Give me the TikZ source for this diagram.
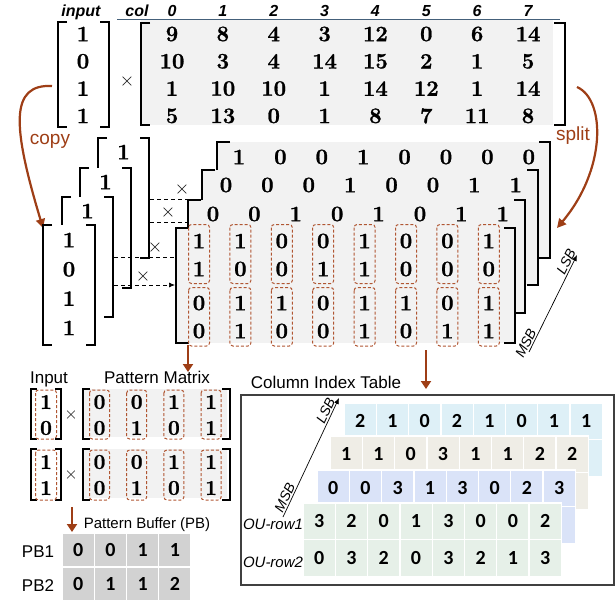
\documentclass[tikz,border=0pt]{standalone}
\usepackage{fontspec}
\setsansfont{Liberation Sans}
\newfontfamily\calfont{Carlito}
\newfontfamily\hvy{Latin Modern Roman}[BoldFeatures={FakeBold=1.2}]
\usetikzlibrary{arrows.meta}
\definecolor{brn}{RGB}{158,62,22}
\definecolor{dbox}{RGB}{176,86,50}
\definecolor{hdr}{RGB}{68,96,122}
\definecolor{lgray}{RGB}{242,242,242}
\definecolor{pbgray}{RGB}{210,210,210}
\definecolor{cblue}{RGB}{222,240,247}
\definecolor{cbeige}{RGB}{239,237,230}
\definecolor{clav}{RGB}{218,227,248}
\definecolor{cgreen}{RGB}{230,240,232}
\newcommand\Lbrk[4]{\draw[brk] (#1+#4,#2) -- (#1,#2) -- (#1,#3) -- (#1+#4,#3);}
\newcommand\Rbrk[4]{\draw[brk] (#1-#4,#2) -- (#1,#2) -- (#1,#3) -- (#1-#4,#3);}
\newcommand\Layer[8]{%
  \fill[lgray] (#1,#3) rectangle (#2,#4);
  \Lbrk{#1}{#3}{#4}{13}
  \Rbrk{#2}{#3}{#4}{11}
  \foreach \v [count=\c] in {#7} \node[bigdig] (#8-\c) at ({#5+41.4*(\c-1)},#6) {\v};
}
\newcommand\CLayer[5]{%
  \foreach \c in {0,...,7} {\foreach \r in {0,1} {\draw[cell, fill=#3] ({#1+32.3*\c},{#2+36.7*\r}) rectangle ++(32.3,36.7);}}
  \foreach \v [count=\c] in {#5} \node[cdig] (#4-\c) at ({#1+32.3*(\c-0.5)},{#2+18.35}) {\v};
}
\begin{document}
\begin{tikzpicture}[x=1pt,y=-1pt,
  brk/.style={line width=1.2pt, line join=miter},
  dig/.style={inner sep=0pt, font=\fontsize{22}{22}\selectfont\hvy\bfseries},
  bigdig/.style={inner sep=0pt, font=\fontsize{22}{22}\selectfont\hvy\bfseries},
  smdig/.style={inner sep=0pt, font=\fontsize{21}{21}\selectfont\hvy\bfseries},
  hd/.style={inner sep=0pt, font=\fontsize{16}{16}\selectfont\sffamily\bfseries\itshape},
  lbl/.style={inner sep=0pt, font=\fontsize{17}{17}\selectfont\sffamily},
  brlbl/.style={inner sep=0pt, text=brn, font=\fontsize{19}{19}\selectfont\sffamily},
  tms/.style={inner sep=0pt, font=\fontsize{20}{20}\selectfont},
  dbx/.style={draw=dbox, line width=1pt, rounded corners=3pt, dash pattern=on 3pt off 2pt},
  darr/.style={line width=0.7pt, dash pattern=on 4pt off 3pt},
  barr/.style={draw=brn, line width=2.6pt, -{Triangle[length=8pt,width=10pt]}},
  carr/.style={draw=brn, line width=2.2pt, -{Triangle[length=9pt,width=9pt]}},
  cell/.style={draw=white, line width=1.3pt},
  cdig/.style={inner sep=0pt, font=\fontsize{20}{20}\selectfont\calfont\bfseries},
  itl/.style={inner sep=0pt, font=\fontsize{15}{15}\selectfont\sffamily\itshape},
  msl/.style={inner sep=1.5pt, font=\fontsize{14}{14}\selectfont\sffamily\itshape, sloped, above},
  sarr/.style={line width=0.7pt, -{Latex[length=6pt,width=5pt]}}]
\useasboundingbox (0,0) rectangle (615,604);

% ---------- header ----------
\node[hd, anchor=base] (hin) at (81,17) {input};
\node[hd, anchor=base] (hcol) at (137,17) {col};
\foreach \v [count=\c] in {0,...,7} \node[hd, anchor=base] (hc\v) at ({172+50.86*(\c-1)},17) {\v};
\draw[hdr, line width=1.8pt] (117,19.5) -- (560,19.5);

% ---------- top matrix ----------
\fill[lgray] (141,20.5) rectangle (553,125);
\Lbrk{141}{23}{125}{9}
\Rbrk{565}{23}{125}{11}
\foreach \row [count=\r] in {{9,8,4,3,12,0,6,14},{10,3,4,14,15,2,1,5},{1,10,10,1,14,12,1,14},{5,13,0,1,8,7,11,8}} {
  \foreach \v [count=\c] in \row {
    \node[dig] (tm-\r-\c) at ({172+50.86*(\c-1)},{34+27.3*(\r-1)}) {\v};
  }
}
% input vector
\Lbrk{58}{22}{127}{9}
\Rbrk{109}{22}{127}{9}
\foreach \v [count=\r] in {1,0,1,1} \node[dig] (in\r) at (83,{34+27.3*(\r-1)}) {\v};
\node[tms] (x0) at (127,82) {×};

% ---------- copy / split ----------
\coordinate (cpS) at (52,86);
\coordinate (cpE) at (43,228);
\draw[carr] (cpS) .. controls (10,84) and (12,125) .. (cpE);
\node[brlbl, anchor=base] (copy) at (50,145) {copy};
\coordinate (spS) at (577,87);
\coordinate (spE) at (557,228);
\draw[carr] (spS) .. controls (606,100) and (606,170) .. (spE);
\node[brlbl, anchor=base] (split) at (573,141) {split};

% ---------- copied vectors ----------
\foreach \lx/\ty/\i in {98/138/1, 80/168/2, 62/197/3} {
  \fill[white] (\lx,\ty) rectangle (\lx+51,\ty+120);
  \Lbrk{\lx}{\ty}{\ty+120}{9}
  \Rbrk{\lx+51}{\ty}{\ty+120}{9}
  \node[bigdig] (bv\i) at (\lx+25.5,\ty+14) {1};
}
\fill[white] (43,225) rectangle (95,345);
\Lbrk{43}{225}{345}{9}
\Rbrk{95}{225}{345}{9}
\foreach \v [count=\r] in {1,0,1,1} \node[bigdig] (fv\r) at (69,{240+29.3*(\r-1)}) {\v};

% ---------- dashed connectors ----------
\coordinate (d1s) at (150,199); \coordinate (d1e) at (201,199);
\coordinate (d2s) at (150,222); \coordinate (d2e) at (188,222);
\coordinate (d3s) at (114,257); \coordinate (d3e) at (176,257);
\coordinate (d4s) at (114,285); \coordinate (d4e) at (175,285);
\draw[darr] (d1s) -- (d1e);
\draw[darr] (d2s) -- (d2e);
\draw[darr] (d3s) -- (d3e);
\draw[darr, -{Latex[length=6pt,width=5pt]}] (d4s) -- (d4e);
\node[tms] (xa) at (182,190) {×};
\node[tms] (xb) at (168,213) {×};
\node[tms] (xc) at (155,248) {×};
\node[tms] (xd) at (143,277) {×};

% ---------- bit-plane layers ----------
\Layer{217}{550}{142}{258}{239}{157}{1,0,0,1,0,0,0,0}{la}
\Layer{202}{538}{170}{285}{226}{185}{0,0,0,1,0,0,1,1}{lb}
\Layer{188}{525}{200}{313}{213}{214}{0,0,1,0,1,0,1,1}{lc}
\fill[lgray] (176,228) rectangle (515,343);
\Lbrk{176}{228}{343}{13}
\Rbrk{515}{228}{343}{11}
\foreach \row/\yy [count=\r] in {{1,1,0,0,1,0,0,1}/241,{1,0,0,1,1,0,0,0}/269,{0,1,1,0,1,1,0,1}/303,{0,1,0,0,1,0,1,1}/331} {
  \foreach \v [count=\c] in \row {
    \node[bigdig] (ld-\r-\c) at ({199+41.4*(\c-1)},\yy) {\v};
  }
}
\foreach \c in {0,...,7} {
  \draw[dbx] ({199+41.4*\c-10.5},224.5) rectangle ({199+41.4*\c+10.5},283.5);
  \draw[dbx] ({199+41.4*\c-10.5},287.5) rectangle ({199+41.4*\c+10.5},346);
}
\coordinate (msbA) at (529,352);
\coordinate (lsbA) at (577,255);
\draw[sarr] (msbA) -- (lsbA) node[msl, pos=0.06] (msbAl) {MSB} node[msl, pos=0.9] (lsbAl) {LSB};

% ---------- brown arrows ----------
\coordinate (a1s) at (188,345); \coordinate (a1e) at (188,372);
\coordinate (a2s) at (426,350); \coordinate (a2e) at (426,389);
\coordinate (a3s) at (72,507);  \coordinate (a3e) at (72,532);
\draw[barr] (a1s) -- (a1e);
\draw[barr] (a2s) -- (a2e);
\draw[barr] (a3s) -- (a3e);

% ---------- input x pattern matrix ----------
\node[lbl, anchor=base] (inlbl) at (49,383) {Input};
\node[lbl, anchor=base] (pmlbl) at (157,383) {Pattern Matrix};
\foreach \ty/\bb/\k/\va/\vb in {389/439/1/1/0, 449/500/2/1/1} {
  \fill[lgray] (83,\ty) rectangle (227,\bb-2);
  \Lbrk{31}{\ty}{\bb}{6}
  \Rbrk{61}{\ty}{\bb}{6}
  \node[smdig] (pi\k a) at (46,\ty+13) {\va};
  \node[smdig] (pi\k b) at (46,\ty+39) {\vb};
  \draw[dbx] (35.5,\ty+1) rectangle (56.5,\bb);
  \node[tms, font=\fontsize{18}{18}\selectfont] (px\k) at (71,\ty+26) {×};
  \Lbrk{83}{\ty}{\bb}{7}
  \Rbrk{230}{\ty}{\bb}{8}
  \foreach \v [count=\c] in {0,0,1,1} \node[smdig] (pm\k a\c) at ({99.5+37.2*(\c-1)},\ty+13) {\v};
  \foreach \v [count=\c] in {0,1,0,1} \node[smdig] (pm\k b\c) at ({99.5+37.2*(\c-1)},\ty+39) {\v};
  \foreach \c in {0,...,3} \draw[dbx] ({99.5+37.2*\c-10},\ty+1) rectangle ({99.5+37.2*\c+10},\bb);
}

% ---------- pattern buffer ----------
\node[inner sep=0pt, font=\fontsize{15}{15}\selectfont\sffamily, anchor=base] (pblbl) at (147,528) {Pattern Buffer (PB)};
\node[lbl, anchor=base] (pb1) at (38,557) {PB1};
\node[lbl, anchor=base] (pb2) at (38,591) {PB2};
\foreach \c in {0,...,3} {\foreach \r in {0,1} {\draw[cell, fill=pbgray] ({62+32.25*\c},{533+34*\r}) rectangle ++(32.25,34);}}
\foreach \v [count=\c] in {0,0,1,1} \node[cdig] (pba\c) at ({62+32.25*(\c-0.5)},550) {\v};
\foreach \v [count=\c] in {0,1,1,2} \node[cdig] (pbb\c) at ({62+32.25*(\c-0.5)},584) {\v};

% ---------- column index table ----------
\node[lbl, anchor=base] (citlbl) at (326,388) {Column Index Table};
\draw[line width=1.3pt, draw=black!75] (241,395) rectangle (614,585);
\CLayer{344}{403}{cblue}{ca}{2,1,0,2,1,0,1,1}
\CLayer{330}{436}{cbeige}{cb}{1,1,0,3,1,1,2,2}
\CLayer{317}{470}{clav}{cc}{0,0,3,1,3,0,2,3}
\CLayer{303}{503}{cgreen}{cd}{3,2,0,1,3,0,0,2}
\foreach \v [count=\c] in {0,3,2,0,3,2,1,3} \node[cdig] (ce-\c) at ({303+32.3*(\c-0.5)},{503+36.7+18.35}) {\v};
\node[itl, anchor=base] (ou1) at (273,529) {OU-row1};
\node[itl, anchor=base] (ou2) at (273,567) {OU-row2};
\coordinate (msbB) at (283,517);
\coordinate (lsbB) at (339,398);
\draw[sarr] (msbB) -- (lsbB) node[msl, pos=0.14] (msbBl) {MSB} node[msl, pos=0.87] (lsbBl) {LSB};
\end{tikzpicture}
\end{document}
